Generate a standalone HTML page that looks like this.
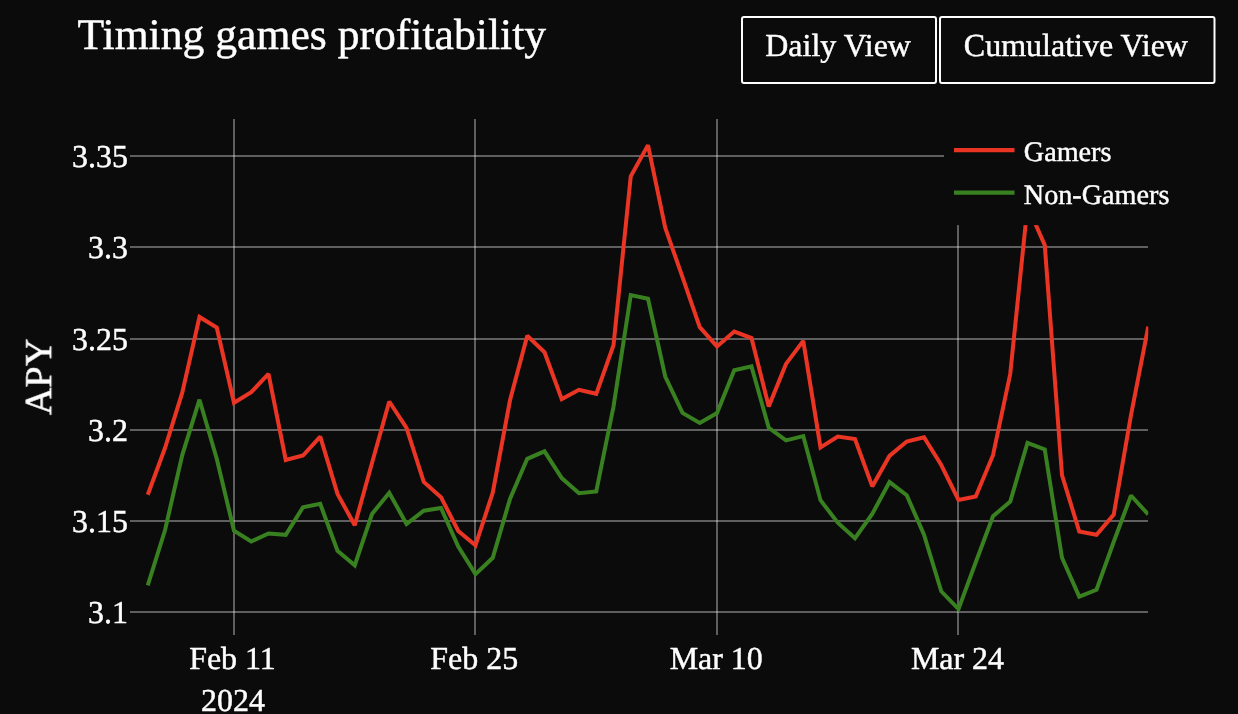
<!DOCTYPE html>
<html><head><meta charset="utf-8"><title>Timing games profitability</title>
<style>
html,body{margin:0;padding:0;background:#0b0b0b;}
body{width:1238px;height:714px;overflow:hidden;}
svg{display:block;}
text{font-family:"Liberation Serif",serif;fill:#fff;stroke:#fff;stroke-width:0.45px;text-rendering:geometricPrecision;}
</style></head><body>
<svg width="1238" height="714" viewBox="0 0 1238 714">
<rect width="1238" height="714" fill="#0b0b0b"/>
<defs><clipPath id="plot"><rect x="130" y="119" width="1018.3" height="516"/></clipPath></defs>

<g stroke="#fff" stroke-opacity="0.345" stroke-width="2" shape-rendering="crispEdges">
<line x1="234" y1="119" x2="234" y2="635"/>
<line x1="475" y1="119" x2="475" y2="635"/>
<line x1="717" y1="119" x2="717" y2="635"/>
<line x1="958" y1="119" x2="958" y2="635"/>
<line x1="130" y1="156" x2="1148.3" y2="156"/>
<line x1="130" y1="247" x2="1148.3" y2="247"/>
<line x1="130" y1="339" x2="1148.3" y2="339"/>
<line x1="130" y1="430" x2="1148.3" y2="430"/>
<line x1="130" y1="521" x2="1148.3" y2="521"/>
<line x1="130" y1="612" x2="1148.3" y2="612"/>
</g>
<g clip-path="url(#plot)" fill="none" stroke-width="4" stroke-linejoin="miter" stroke-miterlimit="1.9">
<polyline stroke="#eb3524" points="147.75,494.7 165.00,448.0 182.25,392.7 199.50,317.0 216.75,327.6 234.00,402.8 251.25,392.2 268.50,373.9 285.75,460.0 303.00,455.5 320.25,436.7 337.50,493.9 354.75,525.2 372.00,463.0 389.25,401.5 406.50,427.8 423.75,481.9 441.00,497.2 458.25,531.0 475.50,545.3 492.75,492.7 510.00,400.3 527.25,335.7 544.50,352.2 561.75,399.1 579.00,389.8 596.25,393.8 613.50,345.2 630.75,176.4 648.00,145.1 665.25,227.8 682.50,277.1 699.75,327.1 717.00,346.4 734.25,331.6 751.50,338.1 768.75,406.5 786.00,363.9 803.25,340.9 820.50,447.4 837.75,436.6 855.00,439.1 872.25,486.4 889.50,455.9 906.75,441.5 924.00,437.2 941.25,465.0 958.50,500.0 975.75,496.5 993.00,455.2 1010.25,373.8 1027.50,206.0 1044.75,245.1 1062.00,475.2 1079.25,531.5 1096.50,534.7 1113.75,514.5 1131.00,415.2 1148.25,326.6"/>
<polyline stroke="#388020" points="147.75,585.4 165.00,530.3 182.25,455.1 199.50,399.7 216.75,458.8 234.00,530.8 251.25,541.5 268.50,533.5 285.75,534.8 303.00,507.2 320.25,503.9 337.50,550.8 354.75,565.3 372.00,514.0 389.25,492.7 406.50,524.0 423.75,510.7 441.00,508.0 458.25,546.5 475.50,574.1 492.75,557.8 510.00,498.9 527.25,458.8 544.50,451.3 561.75,478.1 579.00,493.2 596.25,491.4 613.50,406.6 630.75,295.1 648.00,298.8 665.25,376.5 682.50,412.9 699.75,422.9 717.00,413.1 734.25,370.2 751.50,366.4 768.75,427.8 786.00,440.4 803.25,436.1 820.50,500.2 837.75,522.7 855.00,538.2 872.25,513.9 889.50,482.1 906.75,495.2 924.00,534.6 941.25,591.3 958.50,609.1 975.75,562.3 993.00,516.3 1010.25,501.5 1027.50,442.8 1044.75,449.5 1062.00,557.8 1079.25,596.6 1096.50,589.8 1113.75,541.8 1131.00,495.5 1148.25,514.5"/>
</g>
<rect x="944" y="112" width="240" height="113.1" fill="#0b0b0b"/>
<line x1="954" y1="150.1" x2="1014.5" y2="150.1" stroke="#eb3524" stroke-width="4.3"/>
<line x1="954" y1="192.6" x2="1014.5" y2="192.6" stroke="#388020" stroke-width="4.3"/>
<g opacity="0.999">
<text x="1023.8" y="161.2" font-size="28.2">Gamers</text>
<text x="1023.8" y="204" font-size="28.2">Non-Gamers</text>
<text x="127.9" y="166.9" font-size="31.95" text-anchor="end">3.35</text>
<text x="127.9" y="257.9" font-size="31.95" text-anchor="end">3.3</text>
<text x="127.9" y="349.9" font-size="31.95" text-anchor="end">3.25</text>
<text x="127.9" y="440.9" font-size="31.95" text-anchor="end">3.2</text>
<text x="127.9" y="531.9" font-size="31.95" text-anchor="end">3.15</text>
<text x="127.9" y="622.9" font-size="31.95" text-anchor="end">3.1</text>
<text x="232.5" y="669" font-size="31.95" text-anchor="middle">Feb 11</text>
<text x="474.2" y="669" font-size="31.95" text-anchor="middle">Feb 25</text>
<text x="716.2" y="669" font-size="31.95" text-anchor="middle">Mar 10</text>
<text x="957.5" y="669" font-size="31.95" text-anchor="middle">Mar 24</text>
<text x="233" y="710.7" font-size="31.95" text-anchor="middle">2024</text>
<text transform="translate(51.2,376.9) rotate(-90)" font-size="38.3" text-anchor="middle">APY</text>
<text x="77.4" y="49.3" font-size="43.65">Timing games profitability</text>
<g fill="none" stroke="#fff" stroke-width="2"><rect x="742" y="17" width="194" height="66" rx="2"/><rect x="940" y="17" width="274.5" height="66" rx="2"/></g>
<text x="838.1" y="56.1" font-size="31.95" text-anchor="middle">Daily View</text>
<text x="1075.9" y="56.1" font-size="32.0" text-anchor="middle">Cumulative View</text>
</g>
</svg></body></html>
